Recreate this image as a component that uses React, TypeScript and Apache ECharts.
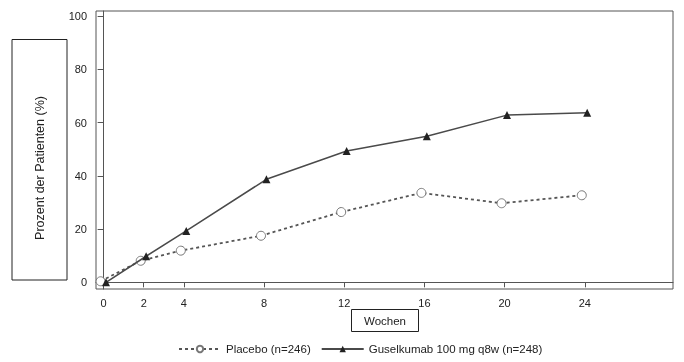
import React, { useEffect, useRef } from "react";
import * as echarts from "echarts";

const weeks = [0, 2, 4, 8, 12, 16, 20, 24];
const placebo = [0.4, 8.1, 11.9, 17.5, 26.4, 33.6, 29.7, 32.7];
const guselkumab = [0, 9.8, 19.3, 38.7, 49.3, 54.9, 62.8, 63.7];
const yTicks = [0, 20, 40, 60, 80, 100];
const seriesNames = ["Placebo (n=246)", "Guselkumab 100 mg q8w (n=248)"];
const xTitle = "Wochen";
const yTitle = "Prozent der Patienten (%)";

const FONT = "'Liberation Sans', Arial, sans-serif";

export default function App() {
  const ref = useRef<HTMLDivElement>(null);
  useEffect(() => {
    if (!ref.current) return;
    const chart = echarts.init(ref.current, null, { renderer: "svg" });
    const placeboOffset = -0.15;
    const guselOffset = 0.12;
    chart.setOption({
      animation: false,
      textStyle: { fontFamily: FONT },
      grid: {
        left: 96,
        top: 11,
        right: 11,
        bottom: 73,
        show: true,
        borderColor: "#555",
        borderWidth: 1,
        containLabel: false,
      },
      xAxis: {
        type: "value",
        min: -0.38,
        max: 28.4,
        axisLine: { show: true, lineStyle: { color: "#555", width: 1 } },
        axisTick: { show: true, customValues: weeks, length: 5, lineStyle: { color: "#555" } },
        axisLabel: {
          customValues: weeks,
          fontSize: 11,
          color: "#222",
          margin: 8,
          fontFamily: FONT,
        },
        splitLine: { show: false },
      },
      yAxis: {
        type: "value",
        min: -2.5,
        max: 101.9,
        axisLine: { show: true, lineStyle: { color: "#555", width: 1 } },
        axisTick: { show: true, customValues: yTicks, length: 6, lineStyle: { color: "#555" } },
        axisLabel: {
          customValues: yTicks,
          fontSize: 11,
          color: "#222",
          margin: 9,
          fontFamily: FONT,
        },
        splitLine: { show: false },
      },
      legend: {
        left: 173,
        top: 338,
        itemWidth: 42,
        itemHeight: 8,
        itemGap: 10,
        textStyle: { fontSize: 11.5, color: "#222", fontFamily: FONT },
        data: seriesNames,
      },
      series: [
        {
          name: seriesNames[0],
          type: "line",
          data: weeks.map((w, i) => [w + placeboOffset, placebo[i]]),
          symbol: "circle",
          symbolSize: 9,
          lineStyle: { color: "#555", width: 1.8, type: [3, 3] },
          itemStyle: { color: "#fff", borderColor: "#777", borderWidth: 1 },
          z: 2,
        },
        {
          name: seriesNames[1],
          type: "line",
          data: weeks.map((w, i) => [w + guselOffset, guselkumab[i]]),
          symbol: "triangle",
          symbolSize: 8,
          lineStyle: { color: "#4a4a4a", width: 1.5, type: "solid" },
          itemStyle: { color: "#222", borderColor: "#222", borderWidth: 0 },
          z: 3,
        },
      ],
      graphic: [
        {
          type: "rect",
          shape: { x: 12, y: 39.5, width: 55, height: 240.5 },
          style: { fill: "#fff", stroke: "#222", lineWidth: 1 },
        },
        {
          type: "text",
          x: 39.5,
          y: 168,
          rotation: Math.PI / 2,
          style: {
            text: yTitle,
            fontSize: 12.5,
            fontFamily: FONT,
            fill: "#222",
            align: "center",
            verticalAlign: "middle",
          },
        },
        {
          type: "rect",
          shape: { x: 351.5, y: 309.5, width: 67, height: 22 },
          style: { fill: "#fff", stroke: "#222", lineWidth: 1 },
        },
        {
          type: "text",
          x: 385,
          y: 321,
          style: {
            text: xTitle,
            fontSize: 11.5,
            fontFamily: FONT,
            fill: "#222",
            align: "center",
            verticalAlign: "middle",
          },
        },
      ],
    });
    return () => chart.dispose();
  }, []);
  return <div ref={ref} style={{ width: 684, height: 362, position: "fixed", left: 0, top: 0 }} />;
}
